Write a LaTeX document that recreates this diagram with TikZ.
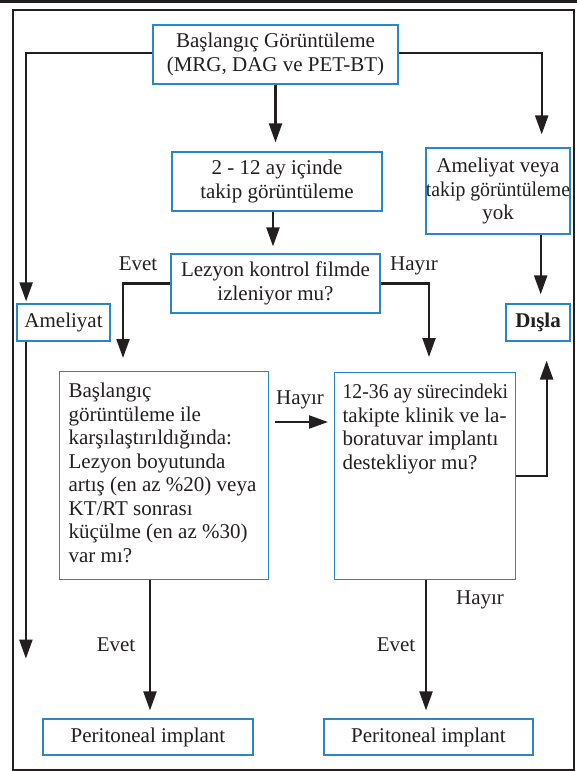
\documentclass[tikz,border=0pt]{standalone}
\usepackage{fontspec}
\usepackage{graphicx}
\setmainfont{Liberation Serif}
\usetikzlibrary{arrows.meta,calc}
\definecolor{boxblue}{RGB}{42,134,204}
\definecolor{inkc}{HTML}{231F20}
\newcommand\myfs{\fontsize{21pt}{23.5pt}\selectfont}
\newcommand\sq[1]{\scalebox{0.94}[1]{#1}}
\tikzset{
  bx/.style={draw=boxblue, line width=1.2pt, fill=white, text=inkc, font=\myfs, inner sep=0pt, align=center},
  arr/.style={draw=inkc, line width=2.2pt, -{Triangle[length=19pt,width=13pt]}},
  lbl/.style={text=inkc, font=\myfs, anchor=base, inner sep=0pt}
}
\begin{document}
\begin{tikzpicture}[x=1pt,y=-1pt]
\useasboundingbox (0,0) rectangle (577,771);
% top bar and frame
\fill[inkc] (0,0) rectangle (577,3);
\draw[inkc, line width=2pt] (13,10) rectangle (574,770);

% boxes
\node[bx, minimum width=245pt, minimum height=59pt] (main) at (275.5,54.5) {Başlangıç Görüntüleme\\(MRG, DAG ve PET-BT)};
\node[bx, minimum width=210pt, minimum height=59pt] (f212) at (277,181.5) {2 - 12 ay içinde\\takip görüntüleme};
\node[bx, minimum width=144pt, minimum height=86pt] (amv) at (498,191) {Ameliyat veya\\\sq{takip görüntüleme}\\yok};
\node[bx, minimum width=209pt, minimum height=59pt] (lez) at (275.5,283.5) {Lezyon kontrol filmde\\izleniyor mu?};
\node[bx, minimum width=93pt, minimum height=37pt] (ame) at (63.5,322.5) {Ameliyat};
\node[bx, minimum width=64pt, minimum height=37pt] (dis) at (538,322.5) {\textbf{Dışla}};
\node[bx, anchor=north west] (lbox) at (59,371) {\parbox[c][208pt][t]{209pt}{\vspace*{9.5pt}\hspace*{9pt}\begin{tabular}[t]{@{}l@{}}Başlangıç\\görüntüleme ile\\karşılaştırıldığında:\\Lezyon boyutunda\\artış (en az \%20) veya\\KT/RT sonrası\\küçülme (en az \%30)\\var mı?\end{tabular}}};
\node[bx, anchor=north west] (rbox) at (334,372) {\parbox[c][207pt][t]{181pt}{\vspace*{9.5pt}\hspace*{8pt}\begin{tabular}[t]{@{}l@{}}\sq{12-36 ay sürecindeki}\\takipte klinik ve la-\\boratuvar implantı\\destekliyor mu?\end{tabular}}};
\node[bx, minimum width=210pt, minimum height=36pt] (pi1) at (148,737) {Peritoneal implant};
\node[bx, minimum width=209pt, minimum height=36pt] (pi2) at (428.5,737) {Peritoneal implant};

% labels
\node[lbl] (l1) at (138,270) {Evet};
\node[lbl] (l2) at (414,270) {Hayır};
\node[lbl] (l3) at (300,404) {Hayır};
\node[lbl] (l4) at (116,651) {Evet};
\node[lbl] (l5) at (396,651) {Evet};
\node[lbl] (l6) at (480,604) {Hayır};

% connectors
\draw[arr] ($(main.west)+(0,-1.5)$) -| ($(ame.north west)+(9.7,-2)$);
\draw[arr] ($(main.east)+(0,-1.5)$) -| ($(amv.north east)+(-29,-13)$);
\draw[arr, shorten >=9pt] (main.south) -- (main.south |- f212.north);
\coordinate (c1) at ($(f212.south)+(-4,0)$);
\draw[arr, shorten >=7pt] (c1) -- (c1 |- lez.north);
\draw[arr, shorten >=13pt] (lez.west) -| ($(lbox.north west)+(64,0)$);
\draw[arr, shorten >=15pt] (lez.east) -| ($(rbox.north west)+(95,0)$);
\coordinate (c2) at ($(amv.south east)+(-30,0)$);
\draw[arr, shorten >=9pt] (c2) -- (c2 |- dis.north);
\draw[arr, shorten >=19pt] (rbox.east) -| ($(dis.south east)+(-24,0)$);
\draw[arr] ($(lbox.north east)+(6,51)$) -- ($(rbox.north west)+(-6,50)$);
\coordinate (c3) at ($(ame.south west)+(9.5,0)$);
\coordinate (e3) at ($(c3)+(0,317)$);
\draw[arr] (c3) -- (e3);
\coordinate (c4) at ($(lbox.south west)+(91,0)$);
\draw[arr, shorten >=8pt] (c4) -- (c4 |- pi1.north);
\coordinate (c5) at ($(rbox.south west)+(92,0)$);
\draw[arr, shorten >=8pt] (c5) -- (c5 |- pi2.north);
\end{tikzpicture}
\end{document}
